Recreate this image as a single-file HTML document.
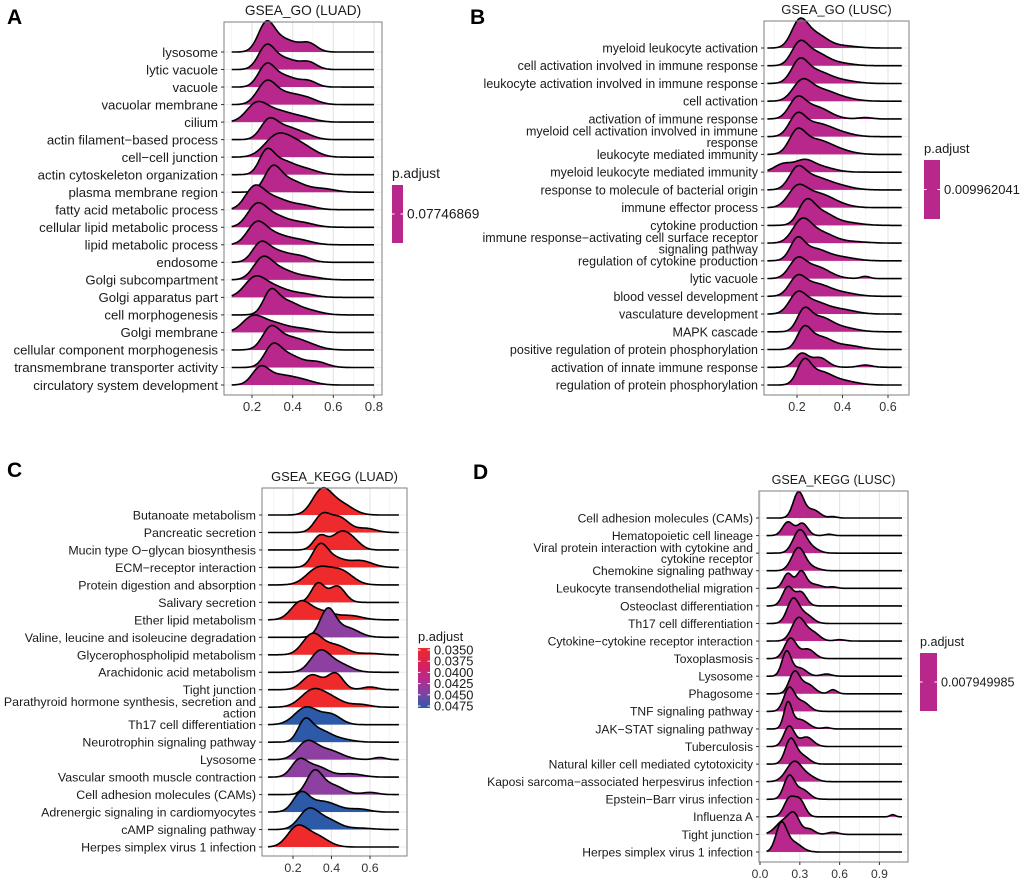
<!DOCTYPE html>
<html><head><meta charset="utf-8">
<style>
html,body{margin:0;padding:0;background:#fff;}
#wrap{position:relative;width:1020px;height:881px;overflow:hidden;font-family:"Liberation Sans",Arial,sans-serif;}
svg{position:absolute;left:0;top:0;}
</style></head>
<body>
<div id="wrap">
<svg id="fig" width="1020" height="881" viewBox="0 0 1020 881"></svg>
</div>
<script>
// ---------- Panel A data ----------
const catsA = ["lysosome","lytic vacuole","vacuole","vacuolar membrane","cilium","actin filament\u2212based process","cell\u2212cell junction","actin cytoskeleton organization","plasma membrane region","fatty acid metabolic process","cellular lipid metabolic process","lipid metabolic process","endosome","Golgi subcompartment","Golgi apparatus part","cell morphogenesis","Golgi membrane","cellular component morphogenesis","transmembrane transporter activity","circulatory system development"];
const ridgesA = [
 [[0.27,0.04,1.0],[0.36,0.06,0.45],[0.48,0.04,0.3]],
 [[0.27,0.04,0.8],[0.36,0.06,0.4],[0.48,0.04,0.25]],
 [[0.27,0.04,0.75],[0.36,0.06,0.4],[0.48,0.04,0.2]],
 [[0.27,0.045,0.75],[0.37,0.07,0.4],[0.48,0.05,0.15]],
 [[0.22,0.05,0.6],[0.32,0.07,0.4],[0.45,0.06,0.15]],
 [[0.28,0.04,0.6],[0.36,0.06,0.45],[0.46,0.05,0.15]],
 [[0.32,0.06,0.75],[0.42,0.06,0.45],[0.5,0.05,0.1]],
 [[0.27,0.035,0.7],[0.34,0.06,0.5],[0.46,0.06,0.2]],
 [[0.3,0.04,0.75],[0.38,0.07,0.45],[0.55,0.06,0.12]],
 [[0.21,0.045,0.7],[0.3,0.07,0.45],[0.45,0.06,0.15]],
 [[0.22,0.045,0.65],[0.3,0.07,0.45],[0.45,0.06,0.15]],
 [[0.22,0.045,0.65],[0.3,0.07,0.4],[0.44,0.06,0.15]],
 [[0.24,0.04,0.6],[0.32,0.06,0.4],[0.44,0.05,0.2]],
 [[0.25,0.045,0.65],[0.33,0.07,0.4],[0.48,0.06,0.1]],
 [[0.21,0.05,0.6],[0.3,0.07,0.4],[0.45,0.06,0.12]],
 [[0.29,0.035,0.7],[0.36,0.06,0.5],[0.48,0.06,0.15]],
 [[0.2,0.05,0.5],[0.3,0.07,0.35],[0.45,0.06,0.12]],
 [[0.29,0.04,0.65],[0.37,0.07,0.45],[0.48,0.06,0.15]],
 [[0.3,0.04,0.7],[0.38,0.06,0.45],[0.52,0.05,0.2]],
 [[0.24,0.04,0.55],[0.33,0.07,0.35],[0.45,0.06,0.15]]
];
const padjA = [0.07746869];
const ticksA = [0.2,0.4,0.6,0.8];

// ---------- Panel B data ----------
const catsB = ["myeloid leukocyte activation","cell activation involved in immune response","leukocyte activation involved in immune response","cell activation","activation of immune response","myeloid cell activation involved in immune\nresponse","leukocyte mediated immunity","myeloid leukocyte mediated immunity","response to molecule of bacterial origin","immune effector process","cytokine production","immune response\u2212activating cell surface receptor\nsignaling pathway","regulation of cytokine production","lytic vacuole","blood vessel development","vasculature development","MAPK cascade","positive regulation of protein phosphorylation","activation of innate immune response","regulation of protein phosphorylation"];
const ridgesB = [
 [[0.21,0.035,0.9],[0.28,0.05,0.5],[0.4,0.06,0.08]],
 [[0.21,0.035,0.75],[0.28,0.05,0.45],[0.38,0.06,0.1]],
 [[0.21,0.035,0.7],[0.28,0.06,0.45],[0.4,0.06,0.1]],
 [[0.22,0.04,0.65],[0.3,0.06,0.4],[0.4,0.06,0.1]],
 [[0.2,0.035,0.65],[0.28,0.06,0.45],[0.5,0.03,0.05]],
 [[0.2,0.035,0.7],[0.28,0.06,0.45],[0.38,0.06,0.15]],
 [[0.2,0.035,0.75],[0.28,0.06,0.5],[0.38,0.06,0.15]],
 [[0.14,0.04,0.3],[0.23,0.04,0.35],[0.3,0.06,0.2]],
 [[0.2,0.035,0.65],[0.27,0.06,0.45],[0.38,0.06,0.15]],
 [[0.2,0.04,0.65],[0.28,0.06,0.45],[0.36,0.06,0.15]],
 [[0.24,0.035,0.8],[0.31,0.05,0.45],[0.42,0.06,0.1]],
 [[0.22,0.04,0.75],[0.3,0.06,0.4],[0.45,0.06,0.05]],
 [[0.2,0.03,0.65],[0.27,0.06,0.45],[0.4,0.06,0.12]],
 [[0.2,0.035,0.6],[0.28,0.06,0.45],[0.5,0.02,0.08]],
 [[0.2,0.035,0.6],[0.28,0.06,0.45],[0.4,0.06,0.12]],
 [[0.2,0.035,0.6],[0.27,0.06,0.45],[0.4,0.06,0.15]],
 [[0.23,0.03,0.7],[0.3,0.05,0.5],[0.4,0.06,0.15]],
 [[0.23,0.03,0.7],[0.3,0.05,0.45],[0.42,0.06,0.15]],
 [[0.22,0.03,0.5],[0.3,0.035,0.35],[0.5,0.03,0.08]],
 [[0.23,0.03,0.8],[0.3,0.05,0.45],[0.4,0.06,0.15]]
];
const padjB = [0.009962041];
const ticksB = [0.2,0.4,0.6];

// ---------- Panel C data ----------
const catsC = ["Butanoate metabolism","Pancreatic secretion","Mucin type O\u2212glycan biosynthesis","ECM\u2212receptor interaction","Protein digestion and absorption","Salivary secretion","Ether lipid metabolism","Valine, leucine and isoleucine degradation","Glycerophospholipid metabolism","Arachidonic acid metabolism","Tight junction","Parathyroid hormone synthesis, secretion and\naction","Th17 cell differentiation","Neurotrophin signaling pathway","Lysosome","Vascular smooth muscle contraction","Cell adhesion molecules (CAMs)","Adrenergic signaling in cardiomyocytes","cAMP signaling pathway","Herpes simplex virus 1 infection"];
const padjC = [0.0350,0.0352,0.0351,0.0350,0.0352,0.0351,0.0352,0.0445,0.0353,0.0445,0.0352,0.0351,0.0478,0.0478,0.0445,0.0445,0.0445,0.0478,0.0478,0.0352];
const ridgesC = [
 [[0.35,0.05,0.9],[0.45,0.06,0.4]],
 [[0.35,0.04,0.6],[0.44,0.05,0.55],[0.58,0.05,0.15]],
 [[0.34,0.035,0.5],[0.45,0.05,0.65],[0.52,0.04,0.2]],
 [[0.34,0.04,0.8],[0.42,0.05,0.3],[0.55,0.06,0.25]],
 [[0.33,0.06,0.6],[0.45,0.06,0.5]],
 [[0.33,0.035,0.7],[0.43,0.04,0.6]],
 [[0.24,0.05,0.65],[0.35,0.06,0.3],[0.5,0.06,0.15]],
 [[0.38,0.04,1.0],[0.48,0.06,0.35]],
 [[0.3,0.05,0.75],[0.42,0.06,0.35],[0.6,0.05,0.05]],
 [[0.34,0.05,0.75],[0.44,0.06,0.3]],
 [[0.3,0.05,0.55],[0.42,0.04,0.6],[0.6,0.04,0.1]],
 [[0.3,0.06,0.6],[0.4,0.06,0.3],[0.55,0.05,0.1]],
 [[0.27,0.06,0.65],[0.4,0.05,0.35]],
 [[0.26,0.035,0.65],[0.33,0.06,0.45],[0.45,0.06,0.1]],
 [[0.27,0.05,0.6],[0.38,0.07,0.35],[0.65,0.03,0.08]],
 [[0.23,0.04,0.55],[0.32,0.06,0.4],[0.5,0.06,0.12]],
 [[0.31,0.04,0.8],[0.4,0.06,0.35],[0.6,0.04,0.08]],
 [[0.24,0.04,0.6],[0.35,0.08,0.4],[0.55,0.05,0.1]],
 [[0.28,0.05,0.7],[0.38,0.06,0.35],[0.55,0.06,0.05]],
 [[0.22,0.05,0.7],[0.32,0.06,0.4]]
];
const legendC = ["0.0350","0.0375","0.0400","0.0425","0.0450","0.0475"];
const ticksC = [0.2,0.4,0.6];

// ---------- Panel D data ----------
const catsD = ["Cell adhesion molecules (CAMs)","Hematopoietic cell lineage","Viral protein interaction with cytokine and\ncytokine receptor","Chemokine signaling pathway","Leukocyte transendothelial migration","Osteoclast differentiation","Th17 cell differentiation","Cytokine\u2212cytokine receptor interaction","Toxoplasmosis","Lysosome","Phagosome","TNF signaling pathway","JAK\u2212STAT signaling pathway","Tuberculosis","Natural killer cell mediated cytotoxicity","Kaposi sarcoma\u2212associated herpesvirus infection","Epstein\u2212Barr virus infection","Influenza A","Tight junction","Herpes simplex virus 1 infection"];
const ridgesD = [
 [[0.29,0.04,0.95],[0.4,0.05,0.3],[0.55,0.03,0.05]],
 [[0.21,0.04,0.5],[0.32,0.04,0.45],[0.52,0.03,0.05]],
 [[0.3,0.05,0.85],[0.4,0.05,0.15]],
 [[0.29,0.05,0.85],[0.4,0.05,0.1]],
 [[0.21,0.035,0.55],[0.31,0.035,0.6],[0.4,0.06,0.15],[0.55,0.03,0.05]],
 [[0.21,0.04,0.7],[0.31,0.04,0.5]],
 [[0.25,0.045,0.9],[0.35,0.05,0.3]],
 [[0.29,0.05,0.85],[0.4,0.05,0.3],[0.6,0.04,0.05]],
 [[0.23,0.045,0.75],[0.36,0.05,0.35]],
 [[0.2,0.035,0.9],[0.3,0.05,0.3],[0.5,0.04,0.08]],
 [[0.26,0.04,0.8],[0.36,0.05,0.35],[0.55,0.03,0.15]],
 [[0.22,0.04,0.85],[0.32,0.05,0.35]],
 [[0.21,0.03,0.9],[0.3,0.06,0.35],[0.5,0.03,0.05]],
 [[0.22,0.04,0.75],[0.35,0.05,0.35]],
 [[0.23,0.04,0.9],[0.32,0.05,0.3]],
 [[0.26,0.06,0.75],[0.38,0.05,0.15]],
 [[0.22,0.04,0.85],[0.32,0.05,0.35]],
 [[0.22,0.04,0.65],[0.3,0.04,0.6],[1.0,0.02,0.08]],
 [[0.18,0.06,0.5],[0.26,0.04,0.6],[0.37,0.04,0.2],[0.55,0.04,0.08]],
 [[0.16,0.04,1.0],[0.25,0.06,0.35]]
];
const padjD = [0.007949985];
const ticksD = [0.0,0.3,0.6,0.9];
const tickLabelsD = ["0.0","0.3","0.6","0.9"];

const NS="http://www.w3.org/2000/svg";
const svg=document.getElementById('fig');
function mk(tag,attrs,parent){const e=document.createElementNS(NS,tag);for(const k in attrs)e.setAttribute(k,attrs[k]);(parent||svg).appendChild(e);return e;}
const MAG="#B8278B";
function colC(p){ if(p<0.038) return "#EE2A2D"; if(p<0.046) return "#8D409F"; return "#2C5AA8"; }

function panel(o){
  const fs=o.fs;
  const g=mk('g',{});
  
  
  const xs=v=>o.x0+(v-o.v0)*o.k;
  const rowY=i=>o.yTop+i*(o.yBot-o.yTop)/(o.cats.length-1);
  const bg=mk('rect',{x:o.bx0,y:o.by0,width:o.bx1-o.bx0,height:o.by1-o.by0,fill:'#fff'},g);
  
  
  o.minor.forEach(v=>{mk('line',{x1:xs(v),x2:xs(v),y1:o.by0,y2:o.by1,stroke:'#f2f2f2','stroke-width':0.8},g);});
  o.ticks.forEach(v=>{
    const l=mk('line',{x1:xs(v),x2:xs(v),y1:o.by0,y2:o.by1,stroke:'#e6e6e6','stroke-width':1.2},g);
    
    
  });
  o.cats.forEach((c,i)=>{mk('line',{x1:o.bx0,x2:o.bx1,y1:rowY(i),y2:rowY(i),stroke:'#ebebeb','stroke-width':1},g);});
  o.ridges.forEach((comps,i)=>{
    const yb=rowY(i);
    let pts=[];
    for(let v=o.lo; v<=o.hi+1e-9; v+=(o.hi-o.lo)/240){
      let d=0; comps.forEach(c=>{d+=c[2]*Math.exp(-0.5*Math.pow((v-c[0])/c[1],2));});
      pts.push([xs(v), yb-d*o.scale]);
    }
    const line=pts.map((p,j)=>(j?'L':'M')+p[0].toFixed(1)+','+p[1].toFixed(1)).join('');
    const fill=mk('path',{d:line+'L'+pts[pts.length-1][0].toFixed(1)+','+yb+'L'+pts[0][0].toFixed(1)+','+yb+'Z',fill:o.color(i),stroke:'none'},g);
    
    
    mk('path',{d:line,fill:'none',stroke:'#000','stroke-width':1.6,'stroke-linejoin':'round'},g);
  });
  const br=mk('rect',{x:o.bx0,y:o.by0,width:o.bx1-o.bx0,height:o.by1-o.by0,fill:'none',stroke:'#7f7f7f','stroke-width':1},g);
  
  
  o.cats.forEach((c,i)=>{
    const y=rowY(i);
    mk('line',{x1:o.bx0-3,x2:o.bx0,y1:y,y2:y,stroke:'#333','stroke-width':1},g);
    const t=mk('text',{x:o.bx0-6,y:y+fs*0.36,'text-anchor':'end','font-size':fs,fill:'#1a1a1a'},g);
    
    
    const parts=c.split('\n');
    if(parts.length===1){t.textContent=c;}
    else{
      parts.forEach((p,j)=>{const s=mk('tspan',{x:o.bx0-6,y:y+fs*0.36+(j-0.5)*fs*0.92},t);s.textContent=p;});
    }
  });
  o.ticks.forEach((v,j)=>{
    mk('line',{x1:xs(v),x2:xs(v),y1:o.by1,y2:o.by1+3,stroke:'#333','stroke-width':1},g);
    const t=mk('text',{x:xs(v),y:o.by1+16,'text-anchor':'middle','font-size':fs,fill:'#333'},g);
    
    
    t.textContent=o.tickLabels?o.tickLabels[j]:v.toFixed(1);
  });
  const tt=mk('text',{x:(o.bx0+o.bx1)/2,y:o.by0-7,'text-anchor':'middle','font-size':fs+0.5,fill:'#1a1a1a'},g);
  
  
  tt.textContent=o.title;
  const lt=mk('text',{x:o.letterX,y:o.letterY,'font-size':21,'font-weight':'bold',fill:'#000'},g);
  
  
  lt.textContent=o.letter;
  const lh=mk('text',{x:o.lx,y:o.ly0-7,'font-size':fs+0.5,fill:'#1a1a1a'},g);
  
  
  lh.textContent='p.adjust';
  if(o.gradient){
    const defs=mk('defs',{},g);
    const lg=mk('linearGradient',{id:'gc',x1:0,y1:0,x2:0,y2:1},defs);
    [["0","#EE2A2D"],["0.3","#D81F5E"],["0.5","#BA2A8C"],["0.75","#7E43A0"],["1","#2C5AA8"]].forEach(s=>mk('stop',{offset:s[0],'stop-color':s[1]},lg));
    const r=mk('rect',{x:o.lx,y:o.ly0,width:o.lw,height:o.ly1-o.ly0,fill:'url(#gc)'},g);
    
    
    o.legendLabels.forEach((l,j)=>{
      const y=o.ly0+2+j*(o.ly1-o.ly0-4)/(o.legendLabels.length-1);
      mk('line',{x1:o.lx,x2:o.lx+2.5,y1:y,y2:y,stroke:'#fff','stroke-width':1},g);
      mk('line',{x1:o.lx+o.lw-2.5,x2:o.lx+o.lw,y1:y,y2:y,stroke:'#fff','stroke-width':1},g);
      const t=mk('text',{x:o.lx+o.lw+4,y:y+4.5,'font-size':fs+0.5,fill:'#1a1a1a'},g);
      
      
      t.textContent=l;
    });
  } else {
    const r=mk('rect',{x:o.lx,y:o.ly0,width:o.lw,height:o.ly1-o.ly0,fill:MAG},g);
    
    
    const y=(o.ly0+o.ly1)/2;
    mk('line',{x1:o.lx,x2:o.lx+2.5,y1:y,y2:y,stroke:'#fff','stroke-width':1},g);
    mk('line',{x1:o.lx+o.lw-2.5,x2:o.lx+o.lw,y1:y,y2:y,stroke:'#fff','stroke-width':1},g);
    const t=mk('text',{x:o.lx+o.lw+4,y:y+4.5,'font-size':fs+0.5,fill:'#1a1a1a'},g);
    
    
    t.textContent=String(o.legendLabels[0]);
  }
}

panel({name:'panel-a',fs:13.2,letter:'A',letterX:7,letterY:24,title:'GSEA_GO (LUAD)',cats:catsA,ridges:ridgesA,color:()=>MAG,
  bx0:224,bx1:382,by0:22,by1:395,yTop:52,yBot:385,x0:252,v0:0.2,k:203.3,lo:0.1,hi:0.8,scale:27,
  ticks:ticksA,minor:[0.1,0.3,0.5,0.7],lx:392,ly0:185,ly1:243,lw:11,legendLabels:padjA});
panel({name:'panel-b',fs:12.5,letter:'B',letterX:470,letterY:24,title:'GSEA_GO (LUSC)',cats:catsB,ridges:ridgesB,color:()=>MAG,
  bx0:764,bx1:909,by0:21,by1:395,yTop:48,yBot:385,x0:797,v0:0.2,k:227.5,lo:0.07,hi:0.66,scale:27,
  ticks:ticksB,minor:[0.1,0.3,0.5],lx:924,ly0:160,ly1:219,lw:16,legendLabels:padjB});
panel({name:'panel-c',fs:12.4,letter:'C',letterX:7,letterY:477,title:'GSEA_KEGG (LUAD)',cats:catsC,ridges:ridgesC,color:i=>colC(padjC[i]),
  bx0:262,bx1:407,by0:488,by1:856,yTop:515,yBot:847,x0:293,v0:0.2,k:192.5,lo:0.07,hi:0.75,scale:27,
  ticks:ticksC,minor:[0.1,0.3,0.5,0.7],lx:418,ly0:648,ly1:708,lw:12,gradient:true,legendLabels:legendC});
panel({name:'panel-d',fs:12.1,letter:'D',letterX:473,letterY:479,title:'GSEA_KEGG (LUSC)',cats:catsD,ridges:ridgesD,color:()=>MAG,
  bx0:759,bx1:908,by0:491,by1:862,yTop:518,yBot:852,x0:760,v0:0,k:132.7,lo:0.05,hi:1.07,scale:27,
  ticks:ticksD,tickLabels:tickLabelsD,minor:[0.15,0.45,0.75,1.05],lx:920,ly0:653,ly1:711,lw:17,legendLabels:padjD});
</script>
</body></html>
